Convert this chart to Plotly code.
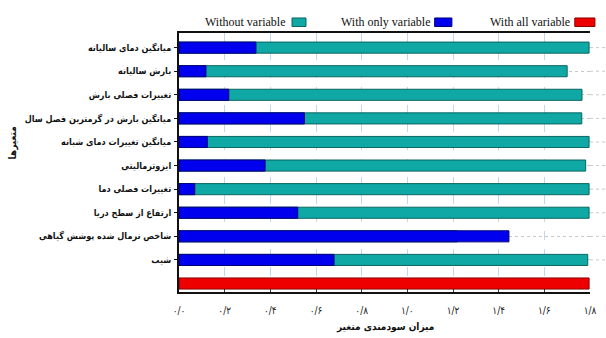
import plotly.graph_objects as go

# Variables (top to bottom) and their usefulness scores
variables = [
    "میانگین دمای سالیانه",
    "بارش سالیانه",
    "تغییرات فصلی بارش",
    "میانگین بارش در گرمترین فصل سال",
    "میانگین تغییرات دمای شبانه",
    "ایزوترمالیتی",
    "تغییرات فصلی دما",
    "ارتفاع از سطح دریا",
    "شاخص نرمال شده پوشش گیاهی",
    "شیب",
]
all_row = "همه متغیرها"

without_variable = [1.796, 1.70, 1.765, 1.764, 1.796, 1.781, 1.796, 1.796, 1.218, 1.79]
with_only_variable = [0.337, 0.118, 0.218, 0.549, 0.124, 0.377, 0.069, 0.520, 1.445, 0.679]
with_all_variables = [1.796]

x_ticks = [0.0, 0.2, 0.4, 0.6, 0.8, 1.0, 1.2, 1.4, 1.6, 1.8]
x_tick_text = ["۰/۰", "۰/۲", "۰/۴", "۰/۶", "۰/۸", "۱/۰", "۱/۲", "۱/۴", "۱/۶", "۱/۸"]

teal, teal_edge = "#0FA8A4", "#0A6662"
blue, blue_edge = "#0000EE", "#00007A"
red, red_edge = "#EE0000", "#8A0000"

fa_font = "DejaVu Sans Condensed, DejaVu Sans"

categories = variables + [all_row]
bar_w = 0.47

fig = go.Figure()
fig.add_trace(go.Bar(
    y=variables, x=without_variable, orientation="h", width=bar_w,
    name="Without variable", marker=dict(color=teal, line=dict(color=teal_edge, width=1)),
    showlegend=False,
))
fig.add_trace(go.Bar(
    y=variables, x=with_only_variable, orientation="h", width=bar_w,
    name="With only variable", marker=dict(color=blue, line=dict(color=blue_edge, width=1)),
    showlegend=False,
))
fig.add_trace(go.Bar(
    y=[all_row], x=with_all_variables, orientation="h", width=bar_w,
    name="With all variable", marker=dict(color=red, line=dict(color=red_edge, width=1)),
    showlegend=False,
))

# Dotted row guides continuing past the right end of the axis
shapes = []
for cat in variables:
    shapes.append(dict(type="line", xref="paper", yref="y", x0=1.0, x1=1.045, y0=cat, y1=cat,
                       line=dict(color="#C8C8C8", width=1, dash="dot"), layer="below"))

# Legend drawn as text followed by a colour swatch
legend_items = [
    ("Without variable", teal, teal_edge, 0.266, 0.275, 0.309),
    ("With only variable", blue, blue_edge, 0.618, 0.622, 0.664),
    ("With all variable", red, red_edge, 0.957, 0.963, 1.012),
]
annotations = []
for label, col, edge, tx, bx0, bx1 in legend_items:
    annotations.append(dict(text=label, xref="paper", yref="paper", x=tx, y=1.042,
                            xanchor="right", yanchor="middle", showarrow=False,
                            font=dict(family="Liberation Serif", size=12, color="#111")))
    shapes.append(dict(type="rect", xref="paper", yref="paper", x0=bx0, x1=bx1, y0=1.025, y1=1.058,
                       fillcolor=col, line=dict(color=edge, width=1)))

annotations.append(dict(text="متغیرها", xref="paper", yref="paper", x=-0.403, y=0.575,
                        textangle=-90, showarrow=False, xanchor="center", yanchor="middle",
                        font=dict(family=fa_font, size=10, color="#111", weight="bold")))
annotations.append(dict(text="میزان سودمندی متغیر", xref="paper", yref="paper", x=0.5, y=-0.135,
                        showarrow=False, xanchor="center", yanchor="middle",
                        font=dict(family=fa_font, size=10, color="#111", weight="bold")))

fig.update_layout(
    width=606, height=338,
    margin=dict(l=179, r=16, t=33, b=46),
    paper_bgcolor="white", plot_bgcolor="white",
    barmode="overlay",
    shapes=shapes, annotations=annotations,
    xaxis=dict(
        range=[0, 1.8], tickvals=x_ticks, ticktext=x_tick_text,
        automargin=False,
        showline=True, linecolor="#111", linewidth=1.5, mirror=True,
        ticks="inside", ticklen=3, tickcolor="#333",
        showgrid=True, gridcolor="#BFD9EA", griddash="dash", gridwidth=1,
        zeroline=False,
        tickfont=dict(family=fa_font, size=10, color="#222"),
        ticklabelstandoff=8,
    ),
    yaxis=dict(
        type="category", categoryorder="array", categoryarray=categories,
        range=[10.36, -0.62], automargin=False,
        tickvals=variables, ticktext=variables,
        showline=True, linecolor="#111", linewidth=2,
        ticks="outside", ticklen=3, tickcolor="#111",
        showgrid=True, gridcolor="#C8C8C8", griddash="dot", gridwidth=1,
        tickfont=dict(family=fa_font, size=9, color="#111", weight="bold"),
        ticklabelstandoff=1,
    ),
)

fig.write_html("out.html")
